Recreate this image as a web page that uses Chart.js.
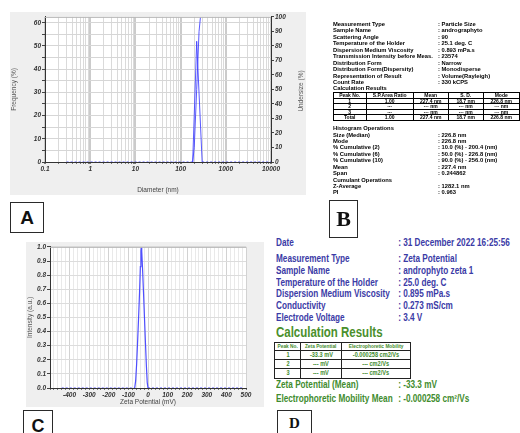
<!DOCTYPE html>
<html>
<head>
<meta charset="utf-8">
<script src="https://cdn.jsdelivr.net/npm/chart.js@4.4.1/dist/chart.umd.min.js"></script>
<style>
  body { margin:0; width:520px; height:433px; position:relative; overflow:hidden; background:#fff; font-family:'Liberation Sans', Arial, sans-serif; }
  .panel { position:absolute; background:#efefef; }
  .panel canvas { position:absolute; left:0; top:0; }
  .tag { position:absolute; border:1.5px solid #2a2a2a; box-sizing:border-box; font-weight:bold; text-align:center; color:#111; }
  .ln { position:absolute; left:0; white-space:nowrap; }
  #infoB { position:absolute; left:333px; top:0; width:187px; font-size:5.8px; font-weight:bold; color:#000; }
  #infoB .ln { height:6.45px; line-height:6.45px; }
  #infoB .val { position:absolute; left:105px; }
  #tblB { position:absolute; left:-0.3px; top:92px; border-collapse:collapse; font-size:5px; }
  #tblB td { border:1px solid #000; padding:0; height:4.5px; line-height:4.5px; text-align:center; }
  #infoD { position:absolute; left:276px; top:0; font-weight:bold; }
  #infoD .sq { transform:scaleX(0.82); transform-origin:0 50%; }
  #infoD .blue { color:#3b3ba6; font-size:10px; height:12px; line-height:12px; }
  #infoD .val { position:absolute; left:149px; }
  #infoD .green { color:#3f8c2e; font-size:10px; height:12px; line-height:12px; }
  #calcD { position:absolute; left:0; top:324px; color:#4a8f2c; font-size:14px; font-weight:bold; transform:scaleX(0.82); transform-origin:0 0; white-space:nowrap; }
  #tblD { position:absolute; left:-2px; top:342px; border-collapse:collapse; color:#3f8c2e; font-size:7px; }
  #tblD td { border:1px solid #222; padding:0; text-align:center; line-height:6px; }
  #tblD tr:first-child td { font-size:6px; }
  #tblD td span { display:inline-block; transform:scaleX(0.8); white-space:nowrap; }
  .rtitle { position:absolute; font-size:6.5px; color:#555; white-space:nowrap; transform:translate(-50%,-50%) rotate(-90deg); }
</style>
</head>
<body>

<div class="panel" style="left:10px;top:12px;width:296px;height:183px;">
  <canvas id="chartA" width="296" height="183"></canvas>
</div>
<div class="rtitle" style="left:300px;top:91px;">Undersize (%)</div>

<div class="panel" style="left:26px;top:242px;width:238px;height:165px;">
  <canvas id="chartC" width="238" height="165"></canvas>
</div>

<div id="infoB"></div>
<div id="infoD"></div>

<div class="tag" style="left:10px;top:202px;width:34px;height:31px;font-size:19px;line-height:29px;">A</div>
<div class="tag" style="left:329px;top:200px;width:29px;height:38px;font-size:22px;line-height:36px;font-family:'Liberation Serif',serif;">B</div>
<div class="tag" style="left:23px;top:410px;width:30px;height:32px;font-size:18px;line-height:30px;">C</div>
<div class="tag" style="left:277px;top:410px;width:35px;height:32px;font-size:15px;line-height:24px;font-family:'Liberation Serif',serif;">D</div>

<script>
/*
    *donnees :
*/
// A : distribution de taille (volume)
const sizeNm = [0.3, 0.5, 1, 2, 5, 10, 20, 50, 100, 150, 185, 227, 300, 500, 1000, 2000, 5000, 10000];
const freqPct = [0, 0, 0, 0, 0, 0, 0, 0, 0, 0, 0, 52, 0, 0, 0, 0, 0, 0];
const undersizeNm = [185, 200.4, 226.8, 256, 275];
const undersizePct = [0, 10, 50, 90, 100];
const sizeDecades = [0.1, 1, 10, 100, 1000, 10000];

// C : potentiel zeta
const zetaMv = [-440, -200, -100, -68, -63, -58, -53, -48, -43, -39, -36, -34, -32, -28, -23, -18, -13, -8, -4, 0, 100, 300, 480];
const intensity = [0, 0, 0, 0, 0.05, 0.17, 0.33, 0.5, 0.68, 0.86, 0.97, 1.0, 0.97, 0.85, 0.68, 0.5, 0.32, 0.15, 0.04, 0, 0, 0, 0];
const zetaLabels = [-400, -300, -200, -100, 0, 100, 200, 300, 400, 500];

// B : resultats taille
const infoB1 = [
    ['Measurement Type', ': Particle Size'],
    ['Sample Name', ': andrographyto'],
    ['Scattering Angle', ': 90'],
    ['Temperature of the Holder', ': 25.1 deg. C'],
    ['Dispersion Medium Viscosity', ': 0.893 mPa.s'],
    ['Transmission Intensity before Meas.', ': 23574'],
    ['Distribution Form', ': Narrow'],
    ['Distribution Form(Dispersity)', ': Monodisperse'],
    ['Representation of Result', ': Volume(Rayleigh)'],
    ['Count Rate', ': 330 kCPS'],
    ['Calculation Results', '']
];
const tableB = [
    ['Peak No.', 'S.P.Area Ratio', 'Mean', 'S. D.', 'Mode'],
    ['1', '1.00', '227.4 nm', '18.7 nm', '226.8 nm'],
    ['2', '---', '--- nm', '--- nm', '--- nm'],
    ['3', '---', '--- nm', '--- nm', '--- nm'],
    ['Total', '1.00', '227.4 nm', '18.7 nm', '226.8 nm']
];
const infoB2 = [
    ['Histogram Operations', ''],
    ['Size (Median)', ': 226.8 nm'],
    ['Mode', ': 226.8 nm'],
    ['% Cumulative (2)', ': 10.0 (%) - 200.4 (nm)'],
    ['% Cumulative (6)', ': 50.0 (%) - 226.8 (nm)'],
    ['% Cumulative (10)', ': 90.0 (%) - 256.0 (nm)'],
    ['Mean', ': 227.4 nm'],
    ['Span', ': 0.244862'],
    ['Cumulant Operations', ''],
    ['Z-Average', ': 1282.1 nm'],
    ['PI', ': 0.963']
];

// D : resultats zeta
const infoD1 = [
    ['Date', ': 31 December 2022 16:25:56'],
    ['Measurement Type', ': Zeta Potential'],
    ['Sample Name', ': androphyto zeta 1'],
    ['Temperature of the Holder', ': 25.0 deg. C'],
    ['Dispersion Medium Viscosity', ': 0.895 mPa.s'],
    ['Conductivity', ': 0.273 mS/cm'],
    ['Electrode Voltage', ': 3.4 V']
];
const tableD = [
    ['Peak No.', 'Zeta Potential', 'Electrophoretic Mobility'],
    ['1', '-33.3 mV', '-0.000258 cm2/Vs'],
    ['2', '--- mV', '--- cm2/Vs'],
    ['3', '--- mV', '--- cm2/Vs']
];
const infoD2 = [
    ['Zeta Potential (Mean)', ': -33.3 mV'],
    ['Electrophoretic Mobility Mean', ': -0.000258 cm\u00B2/Vs']
];

/*
    *textes B et D :
*/
function addLines(box, rows, yCenters, cls, lh) {
    rows.forEach((r, i) => {
        const d = document.createElement('div');
        d.className = 'ln ' + (cls || '');
        d.style.top = (yCenters[i] - lh / 2) + 'px';
        d.innerHTML = '<span>' + r[0] + '</span><span class="val">' + r[1] + '</span>';
        box.appendChild(d);
    });
}
function addTable(box, id, rows, widths, heights) {
    const t = document.createElement('table');
    t.id = id;
    rows.forEach((r, i) => {
        const tr = document.createElement('tr');
        r.forEach((c, j) => {
            const td = document.createElement('td');
            td.style.width = widths[j] + 'px';
            td.style.height = heights[i] + 'px';
            td.innerHTML = '<span>' + c + '</span>';
            tr.appendChild(td);
        });
        t.appendChild(tr);
    });
    box.appendChild(t);
}

const boxB = document.getElementById('infoB');
addLines(boxB, infoB1, infoB1.map((r, i) => 24 + i * 6.47), '', 6.45);
addTable(boxB, 'tblB', tableB, [32, 46, 34, 34, 35], [4.5, 4.5, 4.5, 4.5, 4.5]);
addLines(boxB, infoB2, infoB2.map((r, i) => 128.3 + i * 6.44), '', 6.45);

const boxD = document.getElementById('infoD');
addLines(boxD, infoD1, [243.3, 259, 270.8, 282.6, 294.4, 306.2, 318], 'blue sq', 12);
const calc = document.createElement('div');
calc.id = 'calcD';
calc.textContent = 'Calculation Results';
boxD.appendChild(calc);
addTable(boxD, 'tblD', tableD, [35, 46, 83], [6.5, 8.5, 8, 8.5]);
addLines(boxD, infoD2, [385, 399], 'green sq', 12);

/*
    *graphiques :
*/
const fondBlanc = {
    id: 'fondBlanc',
    beforeDraw(chart) {
        const a = chart.chartArea;
        const ctx = chart.ctx;
        ctx.save();
        ctx.fillStyle = '#fff';
        ctx.fillRect(a.left, a.top, a.width, a.height);
        ctx.restore();
    },
    afterDraw(chart) {
        const a = chart.chartArea;
        const ctx = chart.ctx;
        ctx.save();
        ctx.strokeStyle = '#b8b8b8';
        ctx.lineWidth = 1;
        ctx.beginPath();
        ctx.moveTo(a.left, a.top + 0.5);
        ctx.lineTo(a.right, a.top + 0.5);
        ctx.stroke();
        ctx.restore();
    }
};

const tickFont = { family: 'Liberation Sans', size: 6.5, style: 'italic', weight: 'bold' };
const titleFont = { family: 'Liberation Sans', size: 6.5 };
const pointille = c => (c.p0.parsed.y === 0 && c.p1.parsed.y === 0) ? [2, 2] : undefined;
const isDecade = v => Math.abs(Math.log10(v) - Math.round(Math.log10(v))) < 1e-9;

new Chart(document.getElementById('chartA'), {
    type: 'line',
    data: {
        datasets: [
            {
                data: sizeNm.map((x, i) => ({ x: x, y: freqPct[i] })),
                yAxisID: 'y',
                borderColor: 'rgba(60,60,255,0.85)',
                borderWidth: 1,
                pointRadius: 0,
                segment: { borderDash: pointille }
            },
            {
                data: undersizeNm.map((x, i) => ({ x: x, y: undersizePct[i] })),
                yAxisID: 'y2',
                borderColor: 'rgba(60,60,255,0.85)',
                borderWidth: 1,
                pointRadius: 0
            }
        ]
    },
    options: {
        responsive: false,
        animation: false,
        devicePixelRatio: 1,
        layout: { padding: { top: 3, left: 0, right: 0, bottom: 1 } },
        plugins: { legend: { display: false }, tooltip: { enabled: false } },
        scales: {
            x: {
                type: 'logarithmic',
                min: 0.1,
                max: 10000,
                afterFit: s => { s.height = 32; },
                afterBuildTicks: s => {
                    const t = [];
                    for (let e = -1; e < 4; e++) {
                        for (let m = 1; m < 10; m++) t.push({ value: +(m * Math.pow(10, e)).toPrecision(3) });
                    }
                    t.push({ value: 10000 });
                    s.ticks = t;
                },
                ticks: {
                    autoSkip: false, maxRotation: 0, padding: 1,
                    font: tickFont, color: '#333',
                    callback: v => sizeDecades.includes(v) ? String(v) : ''
                },
                grid: {
                    color: c => (c.tick && isDecade(c.tick.value)) ? '#cbcbcb' : '#dadada',
                    lineWidth: c => (c.tick && isDecade(c.tick.value)) ? 2 : 1,
                    tickLength: 2, tickColor: '#777'
                },
                border: { color: '#333' },
                title: { display: true, text: 'Diameter (nm)', font: titleFont, color: '#444', padding: 0 }
            },
            y: {
                min: 0,
                max: 62.5,
                afterFit: s => { s.width = 35; },
                ticks: {
                    stepSize: 5, includeBounds: false, padding: 1,
                    font: tickFont, color: '#333',
                    callback: v => v % 10 === 0 ? String(v) : ''
                },
                grid: { color: '#d6d6d6', tickLength: 3, tickColor: '#444' },
                border: { color: '#333' },
                title: { display: true, text: 'Frequency (%)', font: titleFont, color: '#555', padding: 0 }
            },
            y2: {
                position: 'right',
                min: 0,
                max: 100,
                afterFit: s => { s.width = 35; },
                ticks: {
                    stepSize: 5, padding: 1,
                    font: tickFont, color: '#333',
                    callback: v => v % 10 === 0 ? String(v) : ''
                },
                grid: { drawOnChartArea: false, tickLength: 3, tickColor: '#444' },
                border: { color: '#333' }
            }
        }
    },
    plugins: [fondBlanc]
});

new Chart(document.getElementById('chartC'), {
    type: 'line',
    data: {
        datasets: [
            {
                data: zetaMv.map((x, i) => ({ x: x, y: intensity[i] })),
                borderColor: 'rgba(60,60,255,0.9)',
                borderWidth: 1.2,
                pointRadius: 0,
                segment: { borderDash: pointille }
            }
        ]
    },
    options: {
        responsive: false,
        animation: false,
        devicePixelRatio: 1,
        layout: { padding: { top: 3, left: 0, right: 18, bottom: 1 } },
        plugins: { legend: { display: false }, tooltip: { enabled: false } },
        scales: {
            x: {
                type: 'linear',
                min: -500,
                max: 500,
                afterFit: s => { s.height = 18; },
                ticks: {
                    stepSize: 20, autoSkip: false, maxRotation: 0, padding: 1,
                    font: tickFont, color: '#333',
                    callback: v => zetaLabels.includes(v) ? String(v) : ''
                },
                grid: {
                    color: c => (c.tick && c.tick.value % 100 === 0) ? '#d2d2d2' : '#e9e9e9',
                    tickLength: 2, tickColor: '#777'
                },
                border: { color: '#333' },
                title: { display: true, text: 'Zeta Potential (mV)', font: titleFont, color: '#444', padding: 0 }
            },
            y: {
                min: 0,
                max: 1,
                afterFit: s => { s.width = 24; },
                ticks: {
                    stepSize: 0.05, padding: 1,
                    font: tickFont, color: '#333',
                    callback: v => Math.abs(v * 10 - Math.round(v * 10)) < 1e-6 ? v.toFixed(1) : ''
                },
                grid: { color: '#dcdcdc', tickLength: 3, tickColor: '#444' },
                border: { color: '#333' },
                title: { display: true, text: 'Intensity (a.u.)', font: titleFont, color: '#555', padding: 0 }
            }
        }
    },
    plugins: [fondBlanc]
});
</script>
</body>
</html>
